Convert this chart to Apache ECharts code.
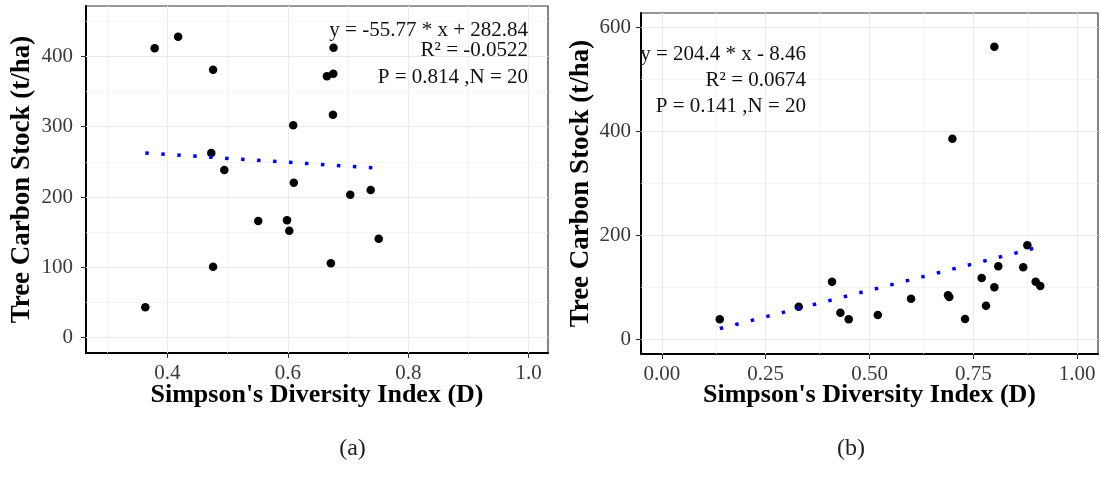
<!DOCTYPE html>
<html>
<head>
<meta charset="utf-8">
<script src="https://cdn.jsdelivr.net/npm/echarts@6/dist/echarts.min.js"></script>
<style>
html,body{margin:0;padding:0;background:#fff;}
#c{width:1101px;height:479px;}
</style>
</head>
<body>
<div id="c"></div>
<script>
// ---- Data ----
const leftX = [0.379, 0.418, 0.476, 0.676, 0.665, 0.6755, 0.675, 0.609, 0.473, 0.4946, 0.610, 0.7037, 0.7376, 0.551, 0.5987, 0.6025, 0.751, 0.476, 0.6715, 0.3635];
const leftY = [411.4, 427.9, 381, 412.3, 371.6, 375.3, 317, 301.9, 262.5, 238.4, 220.3, 203.3, 210, 165.9, 166.9, 152.1, 140.7, 100.9, 105.8, 43.2];
const rightX = [0.8005, 0.6995, 0.880, 0.810, 0.870, 0.770, 0.8005, 0.900, 0.911, 0.7805, 0.730, 0.689, 0.692, 0.600, 0.520, 0.450, 0.430, 0.4098, 0.3296, 0.1396];
const rightY = [562.6, 385.4, 180.5, 140, 138.1, 117.5, 99.6, 110.4, 102.1, 64.2, 38.5, 84, 81, 77.7, 46.2, 37.9, 50.7, 110.4, 62.2, 37.9];
const leftTrendX = [0.3635, 0.752];
const leftTrendY = [262.6, 240.9];
const rightTrendX = [0.1396, 0.911];
const rightTrendY = [20.1, 177.7];

const leftXTicks = [0.4, 0.6, 0.8, 1.0];
const leftXMinor = [0.3, 0.5, 0.7, 0.9];
const leftYTicks = [0, 100, 200, 300, 400];
const leftYMinor = [50, 150, 250, 350, 450];
const rightXTicks = [0, 0.25, 0.5, 0.75, 1.0];
const rightXMinor = [0.125, 0.375, 0.625, 0.875];
const rightYTicks = [0, 200, 400, 600];
const rightYMinor = [100, 300, 500];

const leftEq = ['y = -55.77 * x + 282.84', 'R\u00B2 = -0.0522', 'P = 0.814 ,N = 20'];
const rightEq = ['y = 204.4 * x - 8.46', 'R\u00B2 = 0.0674', 'P = 0.141 ,N = 20'];
const xTitle = "Simpson's Diversity Index (D)";
const yTitle = 'Tree Carbon Stock (t/ha)';
const captions = ['(a)', '(b)'];

// ---- Chart ----
const FONT = "'Liberation Serif', 'Times New Roman', serif";
const chart = echarts.init(document.getElementById('c'), null, {renderer: 'canvas'});

function zip(xs, ys) { return xs.map((x, i) => [x, ys[i]]); }
function gridLines(xMaj, xMin, yMaj, yMin) {
  const maj = {color: '#EBEBEB', width: 1.1, type: 'solid'};
  const mnr = {color: '#F1F1F1', width: 0.7, type: 'solid'};
  return [].concat(
    xMin.map(v => ({xAxis: v, lineStyle: mnr})),
    yMin.map(v => ({yAxis: v, lineStyle: mnr})),
    xMaj.map(v => ({xAxis: v, lineStyle: maj})),
    yMaj.map(v => ({yAxis: v, lineStyle: maj}))
  );
}
function xAxisCfg(gi, min, max, ticks, dec, gap) {
  return {
    gridIndex: gi, type: 'value', min: min, max: max,
    splitLine: {show: false},
    axisLine: {show: true, onZero: false, lineStyle: {color: '#000', width: 2}},
    axisTick: {show: true, customValues: ticks, length: 5, lineStyle: {color: '#333', width: 1.1}},
    axisLabel: {customValues: ticks, formatter: v => Number(v).toFixed(dec), fontFamily: FONT, fontSize: 21, color: '#3a3a3a', margin: 10},
    name: xTitle, nameLocation: 'middle', nameGap: gap, nameMoveOverlap: false,
    nameTextStyle: {fontFamily: FONT, fontWeight: 'bold', fontSize: 26, color: '#000'}
  };
}
function yAxisCfg(gi, min, max, ticks, gap, margin) {
  return {
    gridIndex: gi, type: 'value', min: min, max: max,
    splitLine: {show: false},
    axisLine: {show: true, onZero: false, lineStyle: {color: '#000', width: 2}},
    axisTick: {show: true, customValues: ticks, length: 5, lineStyle: {color: '#333', width: 1.1}},
    axisLabel: {customValues: ticks, formatter: v => String(v), fontFamily: FONT, fontSize: 21, color: '#3a3a3a', margin: margin},
    name: yTitle, nameLocation: 'middle', nameGap: gap, nameRotate: 90, nameMoveOverlap: false,
    nameTextStyle: {fontFamily: FONT, fontWeight: 'bold', fontSize: 27, color: '#000'}
  };
}
function scatter(gi, data, lines) {
  return {
    type: 'scatter', xAxisIndex: gi, yAxisIndex: gi, data: data,
    symbol: 'circle', symbolSize: 8.5, itemStyle: {color: '#000', opacity: 1}, z: 3,
    silent: true,
    markLine: {silent: true, symbol: ['none', 'none'], label: {show: false}, z: 1, animation: false, data: lines}
  };
}
function trend(gi, data) {
  return {
    type: 'line', xAxisIndex: gi, yAxisIndex: gi, data: data, showSymbol: false, z: 4,
    silent: true,
    lineStyle: {color: '#0000FF', width: 3.5, type: [3.5, 12.5], cap: 'butt'}
  };
}
function eqText(x, ys, lines) {
  return lines.map((t, i) => ({
    type: 'text', x: x, y: ys[i], z: 10,
    style: {text: t, fontFamily: FONT, fontSize: 21, fill: '#111', align: 'right', verticalAlign: 'middle'}
  }));
}

chart.setOption({
  animation: false,
  backgroundColor: '#fff',
  grid: [
    {left: 86, top: 6, width: 462, height: 347, show: true, borderColor: '#333', borderWidth: 1.2, containLabel: false},
    {left: 641, top: 13, width: 457, height: 341, show: true, borderColor: '#333', borderWidth: 1.2, containLabel: false}
  ],
  xAxis: [
    xAxisCfg(0, 0.265, 1.032, leftXTicks, 1, 29),
    xAxisCfg(1, -0.05, 1.05, rightXTicks, 2, 28)
  ],
  yAxis: [
    yAxisCfg(0, -21.7, 471.5, leftYTicks, 50, 13),
    yAxisCfg(1, -28.9, 627.7, rightYTicks, 46, 10)
  ],
  series: [
    scatter(0, zip(leftX, leftY), gridLines(leftXTicks, leftXMinor, leftYTicks, leftYMinor)),
    scatter(1, zip(rightX, rightY), gridLines(rightXTicks, rightXMinor, rightYTicks, rightYMinor)),
    trend(0, zip(leftTrendX, leftTrendY)),
    trend(1, zip(rightTrendX, rightTrendY))
  ],
  graphic: [].concat(
    eqText(528, [30, 50, 77.5], leftEq),
    eqText(806, [54.3, 80, 106], rightEq),
    [
      {type: 'text', x: 352.5, y: 449, style: {text: captions[0], fontFamily: FONT, fontSize: 24, fill: '#222', align: 'center', verticalAlign: 'middle'}},
      {type: 'text', x: 851, y: 449, style: {text: captions[1], fontFamily: FONT, fontSize: 24, fill: '#222', align: 'center', verticalAlign: 'middle'}}
    ]
  )
});
</script>
</body>
</html>
